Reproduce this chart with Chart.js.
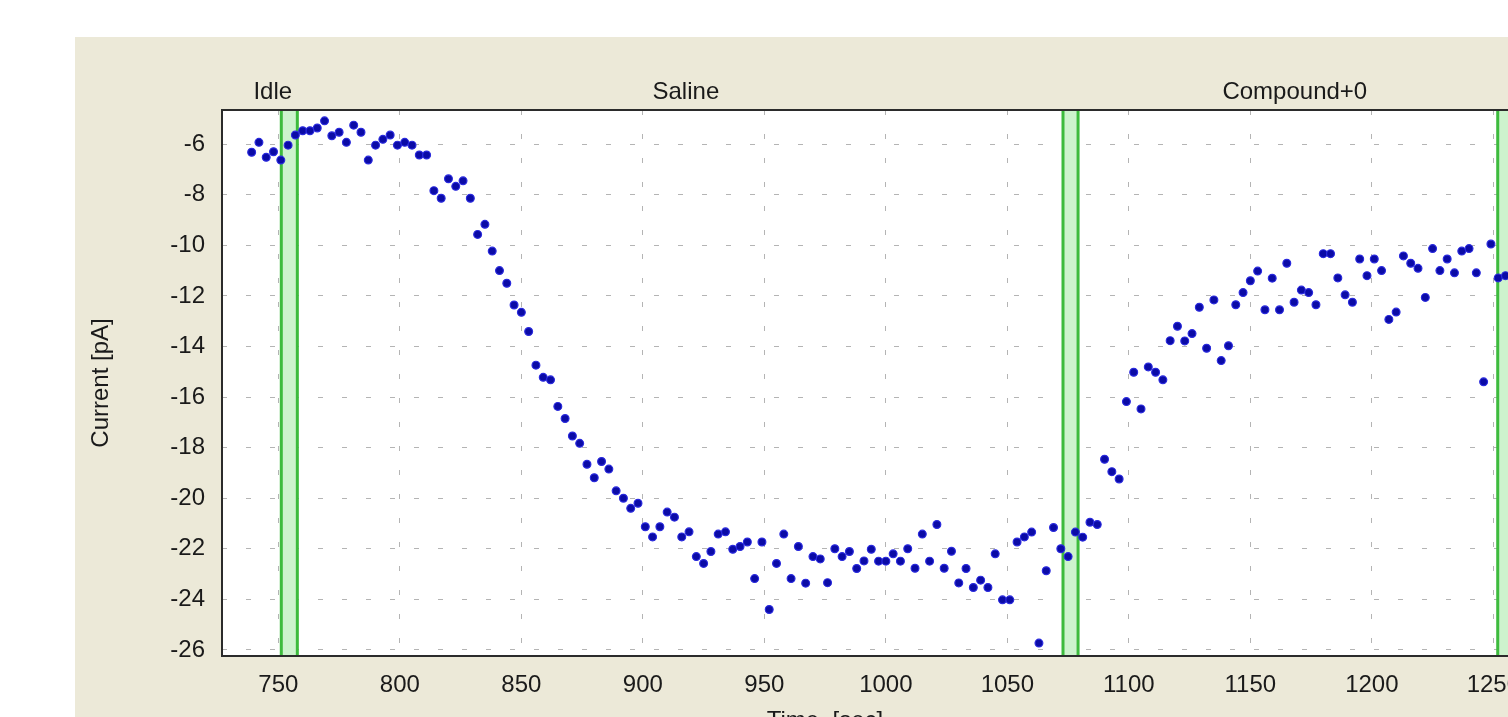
<!DOCTYPE html>
<html>
<head>
<meta charset="utf-8">
<title>Current vs time</title>
<script src="https://cdn.jsdelivr.net/npm/chart.js@4.4.1/dist/chart.umd.min.js"></script>
<style>
  html, body { margin: 0; padding: 0; background: #fff; overflow: hidden; }
  #plot { display: block; position: absolute; left: 0; top: 0; }
</style>
</head>
<body>
<canvas id="plot" width="1560" height="717"></canvas>
<script>
// sample times [sec]
const times = [
  739, 742, 745, 748, 751, 754, 757, 760, 763, 766,
  769, 772, 775, 778, 781, 784, 787, 790, 793, 796,
  799, 802, 805, 808, 811, 814, 817, 820, 823, 826,
  829, 832, 835, 838, 841, 844, 847, 850, 853, 856,
  859, 862, 865, 868, 871, 874, 877, 880, 883, 886,
  889, 892, 895, 898, 901, 904, 907, 910, 913, 916,
  919, 922, 925, 928, 931, 934, 937, 940, 943, 946,
  949, 952, 955, 958, 961, 964, 967, 970, 973, 976,
  979, 982, 985, 988, 991, 994, 997, 1000, 1003, 1006,
  1009, 1012, 1015, 1018, 1021, 1024, 1027, 1030, 1033, 1036,
  1039, 1042, 1045, 1048, 1051, 1054, 1057, 1060, 1063, 1066,
  1069, 1072, 1075, 1078, 1081, 1084, 1087, 1090, 1093, 1096,
  1099, 1102, 1105, 1108, 1111, 1114, 1117, 1120, 1123, 1126,
  1129, 1132, 1135, 1138, 1141, 1144, 1147, 1150, 1153, 1156,
  1159, 1162, 1165, 1168, 1171, 1174, 1177, 1180, 1183, 1186,
  1189, 1192, 1195, 1198, 1201, 1204, 1207, 1210, 1213, 1216,
  1219, 1222, 1225, 1228, 1231, 1234, 1237, 1240, 1243, 1246,
  1249, 1252, 1255
];

// measured current [pA]
const current = [
  -6.32, -5.93, -6.52, -6.30, -6.63, -6.04, -5.64, -5.47, -5.47, -5.36,
  -5.08, -5.67, -5.53, -5.93, -5.25, -5.53, -6.63, -6.04, -5.81, -5.64,
  -6.04, -5.93, -6.04, -6.43, -6.43, -7.84, -8.14, -7.37, -7.67, -7.45,
  -8.14, -9.57, -9.17, -10.23, -11.00, -11.50, -12.36, -12.65, -13.41, -14.74,
  -15.22, -15.32, -16.37, -16.85, -17.54, -17.83, -18.66, -19.19, -18.55, -18.85,
  -19.71, -20.00, -20.40, -20.20, -21.13, -21.53, -21.13, -20.55, -20.75, -21.53,
  -21.33, -22.31, -22.58, -22.11, -21.42, -21.33, -22.02, -21.91, -21.73, -23.18,
  -21.73, -24.40, -22.58, -21.42, -23.18, -21.91, -23.36, -22.31, -22.40, -23.34,
  -22.00, -22.31, -22.11, -22.78, -22.48, -22.02, -22.49, -22.49, -22.20, -22.49,
  -22.00, -22.77, -21.42, -22.49, -21.04, -22.77, -22.10, -23.35, -22.78, -23.53,
  -23.24, -23.53, -22.20, -24.02, -24.02, -21.73, -21.53, -21.34, -25.73, -22.87,
  -21.16, -22.00, -22.31, -21.34, -21.54, -20.95, -21.04, -18.46, -18.95, -19.24,
  -16.18, -15.02, -16.47, -14.81, -15.02, -15.32, -13.77, -13.20, -13.78, -13.49,
  -12.45, -14.07, -12.16, -14.56, -13.97, -12.35, -11.87, -11.40, -11.02, -12.55,
  -11.30, -12.55, -10.71, -12.25, -11.77, -11.87, -12.35, -10.33, -10.33, -11.29,
  -11.96, -12.25, -10.54, -11.20, -10.54, -11.00, -12.93, -12.64, -10.42, -10.71,
  -10.91, -12.06, -10.13, -11.00, -10.54, -11.09, -10.23, -10.13, -11.09, -15.40,
  -9.95, -11.29, -11.20
];

// solution switches (green bands), seconds
const switchStart = [751.2, 1072.9, 1251.8];
const switchEnd = [757.8, 1079.1, 1258.5];

// phase names shown above the plot, and where they are centred
const phaseNames = ["Idle", "Saline", "Compound+0"];
const phaseCenters = [747.7, 917.7, 1168.3];

const FONT = '"Liberation Sans", Arial, sans-serif';
const TEXT = "#1a1a1a";

const fondo = {
  id: "fondo",
  beforeDraw(chart) {
    const { ctx, chartArea: a } = chart;
    ctx.save();
    ctx.fillStyle = "#ffffff";
    ctx.fillRect(0, 0, chart.width, chart.height);
    ctx.fillStyle = "#ece9d8";
    ctx.fillRect(75, 37, chart.width - 75, chart.height - 37);
    ctx.fillStyle = "#ffffff";
    ctx.fillRect(a.left, a.top, a.right - a.left, a.bottom - a.top);
    ctx.restore();
  },
  beforeDatasetsDraw(chart) {
    const { ctx, chartArea: a } = chart;
    const x = chart.scales.x;
    ctx.save();
    for (let i = 0; i < switchStart.length; i++) {
      const x1 = x.getPixelForValue(switchStart[i]);
      const x2 = x.getPixelForValue(switchEnd[i]);
      ctx.fillStyle = "#cdf3cd";
      ctx.fillRect(x1, a.top, x2 - x1, a.bottom - a.top);
      ctx.strokeStyle = "#3dbb3d";
      ctx.lineWidth = 3;
      ctx.beginPath();
      ctx.moveTo(x1, a.top);
      ctx.lineTo(x1, a.bottom);
      ctx.moveTo(x2, a.top);
      ctx.lineTo(x2, a.bottom);
      ctx.stroke();
    }
    ctx.restore();
  },
  afterDraw(chart) {
    const { ctx, chartArea: a } = chart;
    const x = chart.scales.x;
    ctx.save();
    // frame
    ctx.strokeStyle = "#2b2b2b";
    ctx.lineWidth = 2;
    ctx.beginPath();
    ctx.moveTo(chart.width, a.top);
    ctx.lineTo(a.left, a.top);
    ctx.lineTo(a.left, a.bottom);
    ctx.lineTo(chart.width, a.bottom);
    ctx.stroke();

    ctx.fillStyle = TEXT;
    ctx.font = "24px " + FONT;
    ctx.textAlign = "center";
    ctx.textBaseline = "alphabetic";
    phaseNames.forEach((nome, i) => {
      ctx.fillText(nome, x.getPixelForValue(phaseCenters[i]), 99);
    });

    // axis titles
    ctx.fillText("Time  [sec]", 825, 728);
    ctx.translate(101, (a.top + a.bottom) / 2);
    ctx.rotate(-Math.PI / 2);
    ctx.textBaseline = "middle";
    ctx.fillText("Current [pA]", 0, 0);
    ctx.restore();
  }
};

new Chart(document.getElementById("plot"), {
  type: "scatter",
  data: {
    datasets: [
      {
        label: "Current",
        data: times.map((t, i) => ({ x: t, y: current[i] })),
        backgroundColor: "#0b0ba6",
        borderColor: "#2a2ade",
        borderWidth: 1.2,
        pointRadius: 3.9,
        pointHoverRadius: 3.9
      }
    ]
  },
  options: {
    responsive: false,
    animation: false,
    events: [],
    layout: { padding: { top: 110, right: 20, left: 0, bottom: 0 } },
    plugins: {
      legend: { display: false },
      tooltip: { enabled: false }
    },
    scales: {
      x: {
        type: "linear",
        min: 726.8,
        max: 1269.2,
        afterFit: (s) => { s.height = 61; },
        ticks: {
          stepSize: 50,
          includeBounds: false,
          autoSkip: false,
          maxRotation: 0,
          padding: 15,
          color: TEXT,
          font: { family: FONT, size: 24 },
          callback: (v) => String(v)
        },
        grid: { color: "#b4b4b4", lineWidth: 1, drawTicks: false },
        border: { display: false, dash: [5, 19] }
      },
      y: {
        min: -26.24,
        max: -4.65,
        afterFit: (s) => { s.width = 222; },
        ticks: {
          stepSize: 2,
          includeBounds: false,
          padding: 17,
          color: TEXT,
          font: { family: FONT, size: 24 }
        },
        grid: { color: "#b4b4b4", lineWidth: 1, drawTicks: false },
        border: { display: false, dash: [5, 19] }
      }
    }
  },
  plugins: [fondo]
});
</script>
</body>
</html>
